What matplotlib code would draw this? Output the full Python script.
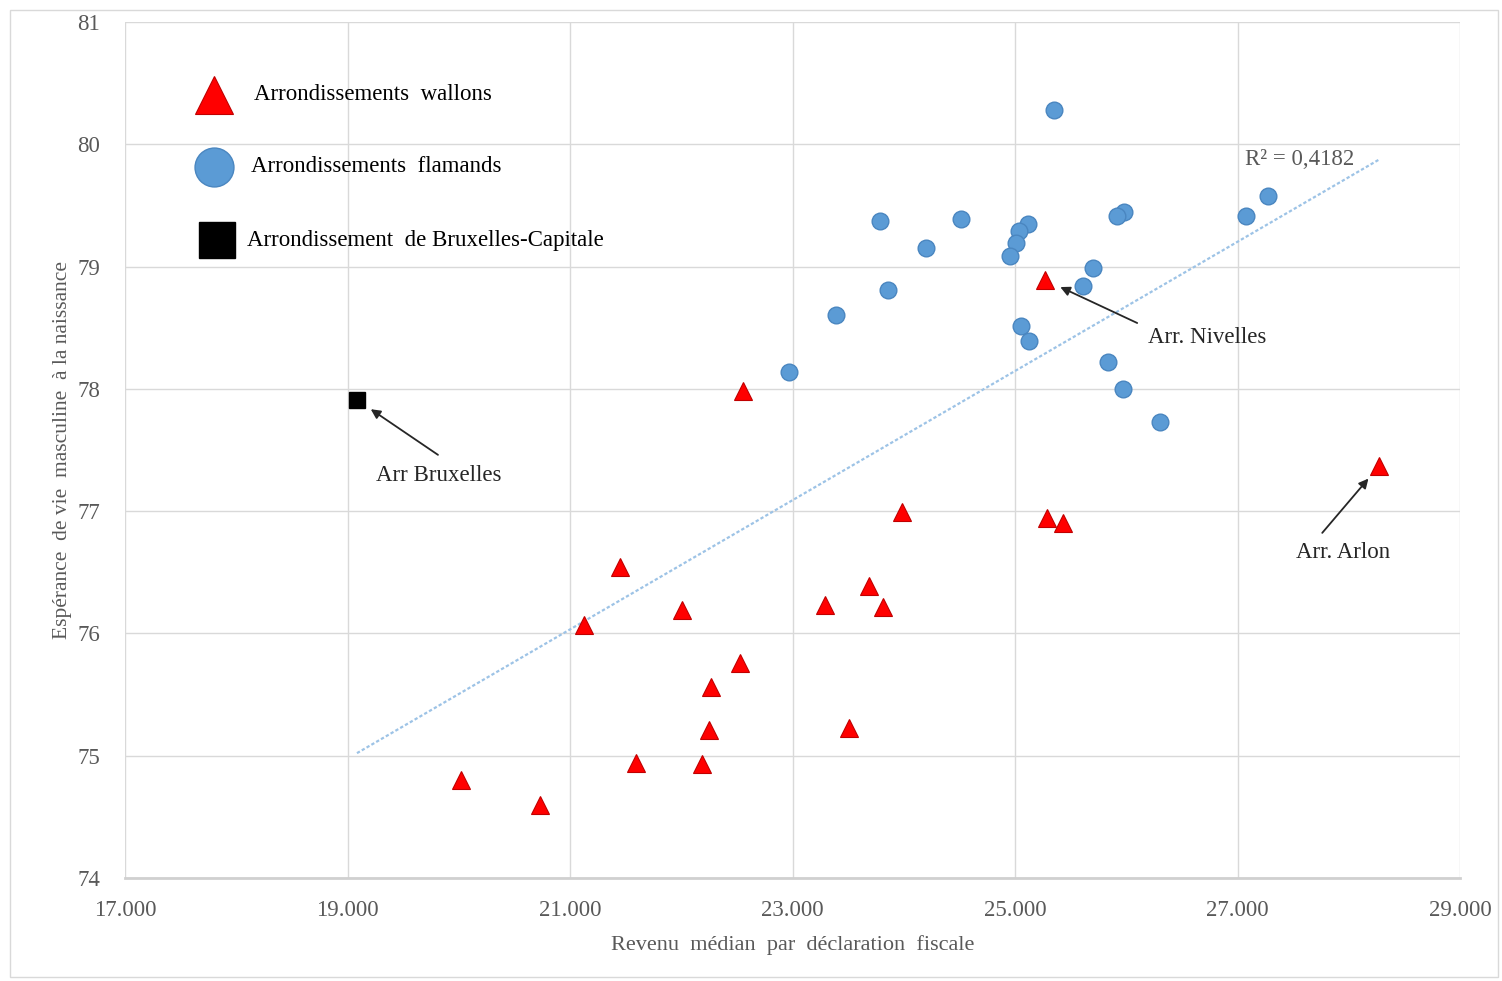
import numpy as np
import matplotlib
matplotlib.use("Agg")
import matplotlib.pyplot as plt
from matplotlib.ticker import FuncFormatter
from matplotlib.patches import Rectangle

# ---------------- data ----------------
wallons_x = [25270, 22555, 28272, 23984, 21449, 23688, 22007, 23292, 23813, 21126,
             22528, 22267, 22249, 23508, 21593, 22187, 20020, 20730, 25288, 25431]
wallons_y = [78.89, 77.98, 77.37, 76.99, 76.54, 76.39, 76.19, 76.23, 76.22, 76.07,
             75.76, 75.56, 75.21, 75.23, 74.94, 74.93, 74.80, 74.60, 76.94, 76.90]

flamands_x = [25351, 27274, 27076, 25980, 25917, 23787, 24515, 24200, 25117, 25036,
              25009, 24955, 25701, 25611, 23858, 23391, 25054, 25126, 25836, 25971,
              26303, 22969]
flamands_y = [80.28, 79.58, 79.41, 79.45, 79.41, 79.37, 79.39, 79.15, 79.35, 79.29,
              79.19, 79.09, 78.99, 78.84, 78.81, 78.60, 78.51, 78.39, 78.22, 78.00,
              77.73, 78.14]

bruxelles_x = [19085]
bruxelles_y = [77.91]

x_ticks = [17000, 19000, 21000, 23000, 25000, 27000, 29000]
y_ticks = [74, 75, 76, 77, 78, 79, 80, 81]

legend_labels = ["Arrondissements  wallons", "Arrondissements  flamands",
                 "Arrondissement  de Bruxelles-Capitale"]
r2_label = "R² = 0,4182"
x_label = "Revenu  médian  par  déclaration  fiscale"
y_label = "Espérance  de vie  masculine  à la naissance"

# ---------------- figure ----------------
plt.rcParams['font.family'] = ['Liberation Serif', 'DejaVu Serif']
fig = plt.figure(figsize=(15.02, 9.81), dpi=100)
ax = fig.add_axes([0.0832, 0.105, 0.889, 0.8726])

# outer chart border
fig.patches.append(Rectangle((10 / 1502, 4 / 981), 1488 / 1502, 967 / 981,
                             transform=fig.transFigure, fill=False,
                             edgecolor='#d9d9d9', lw=1.0))

ax.set_xlim(17000, 29000)
ax.set_ylim(74, 81)
ax.set_xticks(x_ticks)
ax.set_yticks(y_ticks)
ax.xaxis.set_major_formatter(FuncFormatter(lambda v, p: f"{int(v):,}".replace(",", ".")))
ax.grid(True, color='#d9d9d9', lw=1.0)
ax.set_axisbelow(True)
for s in ['top', 'right', 'left']:
    ax.spines[s].set_visible(False)
ax.spines['bottom'].set_color('#d0d0d0')
ax.spines['bottom'].set_linewidth(2.0)
ax.tick_params(length=0, labelsize=16.5, labelcolor='#595959')
ax.tick_params(axis='x', pad=16)
ax.tick_params(axis='y', pad=18)

ax.set_xlabel(x_label, fontsize=16, color='#595959', labelpad=10)
ax.set_ylabel(y_label, fontsize=15.5, color='#595959', labelpad=4)

# trendline over all points
all_x = np.array(wallons_x + flamands_x + bruxelles_x, dtype=float)
all_y = np.array(wallons_y + flamands_y + bruxelles_y, dtype=float)
coef = np.polyfit(all_x, all_y, 1)
tx = np.array([all_x.min(), all_x.max()])
ax.plot(tx, np.polyval(coef, tx), ls=(0, (1.5, 1.0)), color='#9dc3e6', lw=1.6, zorder=2)
ax.text(0.839, 0.839, r2_label, transform=ax.transAxes, fontsize=16.5,
        color='#595959', ha='left', va='center')

# points
ax.plot(flamands_x, flamands_y, 'o', ms=12, color='#5b9bd5', mec='#4a86c0', mew=1, zorder=3)
ax.plot(wallons_x, wallons_y, '^', ms=12.5, color='#ff0000', mec='#c00000', mew=0.8, zorder=4)
ax.plot(bruxelles_x, bruxelles_y, 's', ms=12, color='#000000', zorder=4)

# annotations
def annot(px, py, label, tail, text_off, ha):
    ax.annotate('', xy=(px, py), xytext=tail, textcoords='offset pixels',
                arrowprops=dict(arrowstyle='-|>', color='#262626', lw=1.3,
                                shrinkA=0, shrinkB=12, mutation_scale=14))
    ax.annotate(label, xy=(px, py), xytext=text_off, textcoords='offset pixels',
                ha=ha, va='center', fontsize=16.5, color='#262626')

annot(wallons_x[0], wallons_y[0], "Arr. Nivelles", (92, -43), (103, -57), 'left')
annot(bruxelles_x[0], bruxelles_y[0], "Arr Bruxelles", (81, -55), (82, -76), 'center')
annot(wallons_x[2], wallons_y[2], "Arr. Arlon", (-57, -67), (-36, -87), 'center')

# legend (drawn in axes coordinates)
leg_y = [0.9147, 0.8306, 0.7453]
ax.plot([0.0667], [leg_y[0]], '^', ms=28, color='#ff0000', mec='#c00000', mew=0.8,
        transform=ax.transAxes, clip_on=False)
ax.plot([0.0667], [leg_y[1]], 'o', ms=28, color='#5b9bd5', mec='#4a86c0', mew=1,
        transform=ax.transAxes, clip_on=False)
ax.plot([0.0690], [leg_y[2]], 's', ms=26, color='#000000',
        transform=ax.transAxes, clip_on=False)
for i, lab in enumerate(legend_labels):
    ax.text(0.0966 - 0.0025 * i, leg_y[i], lab, transform=ax.transAxes,
            fontsize=16.5, color='#000000', ha='left', va='center')

fig.savefig("out.png", dpi=100)
